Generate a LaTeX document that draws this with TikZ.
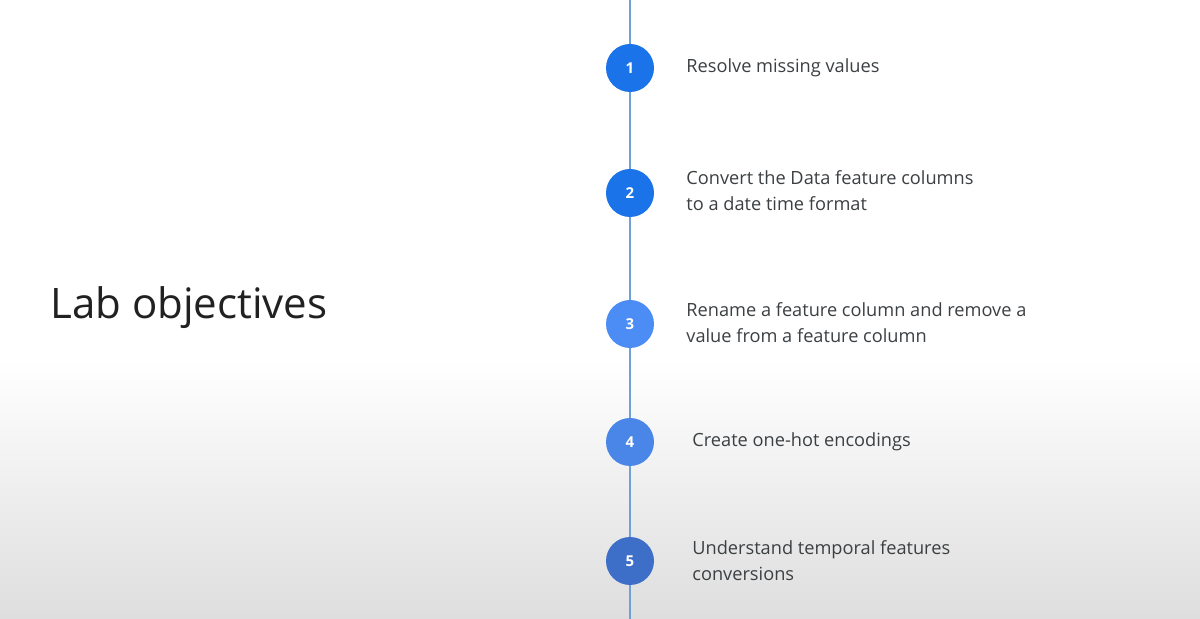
\documentclass[tikz,border=0pt]{standalone}
\usepackage{fontspec}
\setmainfont{Open Sans}
\begin{document}
\begin{tikzpicture}[x=0.5pt,y=-0.5pt]
\definecolor{bA}{HTML}{1A73E8}
\definecolor{bB}{HTML}{4C8DF5}
\definecolor{bC}{HTML}{4A86E8}
\definecolor{bD}{HTML}{3D6FC8}
\definecolor{ln}{HTML}{6FA0D8}
\definecolor{txt}{HTML}{3C4043}
\tikzset{num/.style={circle,minimum size=24pt,inner sep=0pt,text=white,font=\fontsize{7.5}{9}\selectfont\bfseries},
  lab/.style={anchor=west,align=left,text=txt,font=\fontsize{9.1}{13}\selectfont,inner sep=0pt}}
\useasboundingbox (0,0) rectangle (1200,619);
\fill[white] (0,0) rectangle (1200,360);
\shade[top color=white,bottom color=black!13] (0,360) rectangle (1200,619);
\coordinate (top) at (630,0);
\coordinate (bot) at (630,619);
\draw[ln,line width=0.6pt] (top) -- (bot);
\node[num,fill=bA] (n1) at (630,68) {1};
\node[num,fill=bA] (n2) at (630,193) {2};
\node[num,fill=bB] (n3) at (630,324) {3};
\node[num,fill=bC] (n4) at (630,442) {4};
\node[num,fill=bD] (n5) at (630,561) {5};
\node[lab] (t1) at (686,68) {Resolve missing values};
\node[lab] (t2) at (686,191) {Convert the Data feature columns\\to a date time format};
\node[lab] (t3) at (686,323) {Rename a feature column and remove a\\value from a feature column};
\node[lab] (t4) at (692,442) {Create one-hot encodings};
\node[lab] (t5) at (692,561) {Understand temporal features\\conversions};
\node[anchor=west,inner sep=0pt,text=black!87,font=\fontsize{21}{25}\selectfont] (title) at (50,308) {Lab objectives};
\end{tikzpicture}
\end{document}
